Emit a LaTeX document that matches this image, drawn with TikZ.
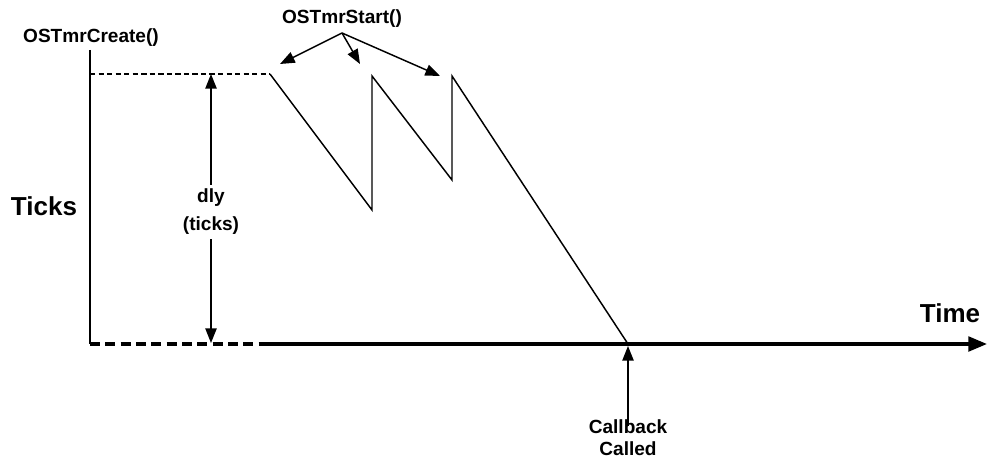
\documentclass[tikz,border=0pt]{standalone}
\usepackage{fontspec}
\setmainfont{Liberation Sans}
\usetikzlibrary{arrows.meta}
\begin{document}
\begin{tikzpicture}[x=0.75pt,y=-0.75pt,
  lbl/.style={font=\bfseries\fontsize{14.3}{21}\selectfont, inner sep=0pt, align=center},
  big/.style={font=\bfseries\fontsize{19.5}{23}\selectfont, inner sep=0pt},
  thinline/.style={line width=1.1pt},
  axisline/.style={line width=2.4pt},
  tip/.style={-{Triangle[length=11pt,width=8.5pt]}},
]
\useasboundingbox (0,0) rectangle (987,459);
% labels
\node[lbl] (create) at (91,38) {OSTmrCreate()};
\node[lbl] (start) at (342,19) {OSTmrStart()};
\node[big] (ticks) at (44,206) {Ticks};
\node[big] (time) at (950,313) {Time};
\node[lbl, inner sep=3pt] (dly) at (211,212) {dly\\(ticks)};
\node[lbl, font=\bfseries\fontsize{14.3}{16.5}\selectfont] (cb) at (628,438) {Callback\\Called};
% coordinates
\coordinate (o) at (90,344);
\coordinate (ytop) at (90,50);
\coordinate (d0) at (270,74);
\coordinate (dsplit) at (266,344);
\coordinate (xend) at (987,344);
\coordinate (v1) at (372,210);
\coordinate (p2) at (372,76);
\coordinate (v2) at (452,180);
\coordinate (p3) at (452,76);
\coordinate (zero) at (628,344);
\coordinate (dlytop) at (211,74);
\coordinate (dlybot) at (211,343);
\coordinate (sorg) at (342,33);
\coordinate (s1) at (280,64);
\coordinate (s2) at (360,64);
\coordinate (s3) at (440,76);
\coordinate (cbtop) at (628,346);
% axes
\draw[thinline] (ytop) -- (o);
\draw[thinline, dash pattern=on 4pt off 2.4pt] (90,74) -- (d0);
\draw[axisline, dash pattern=on 7.5pt off 4pt] (o) -- (dsplit);
\draw[axisline, -{Triangle[length=14pt,width=11pt]}] (dsplit) -- (xend);
% sawtooth
\draw[thinline, line join=miter] (d0) -- (v1) -- (p2) -- (v2) -- (p3) -- (zero);
% dly arrows
\draw[thinline, tip] (dly.north) -- (dlytop);
\draw[thinline, tip] (dly.south) -- (dlybot);
% OSTmrStart arrows
\draw[thinline, tip] (sorg) -- (s1);
\draw[thinline, tip] (sorg) -- (s2);
\draw[thinline, tip] (sorg) -- (s3);
% callback arrow
\draw[thinline, tip] ([yshift=-5pt]cb.north) -- (cbtop);
\end{tikzpicture}
\end{document}
